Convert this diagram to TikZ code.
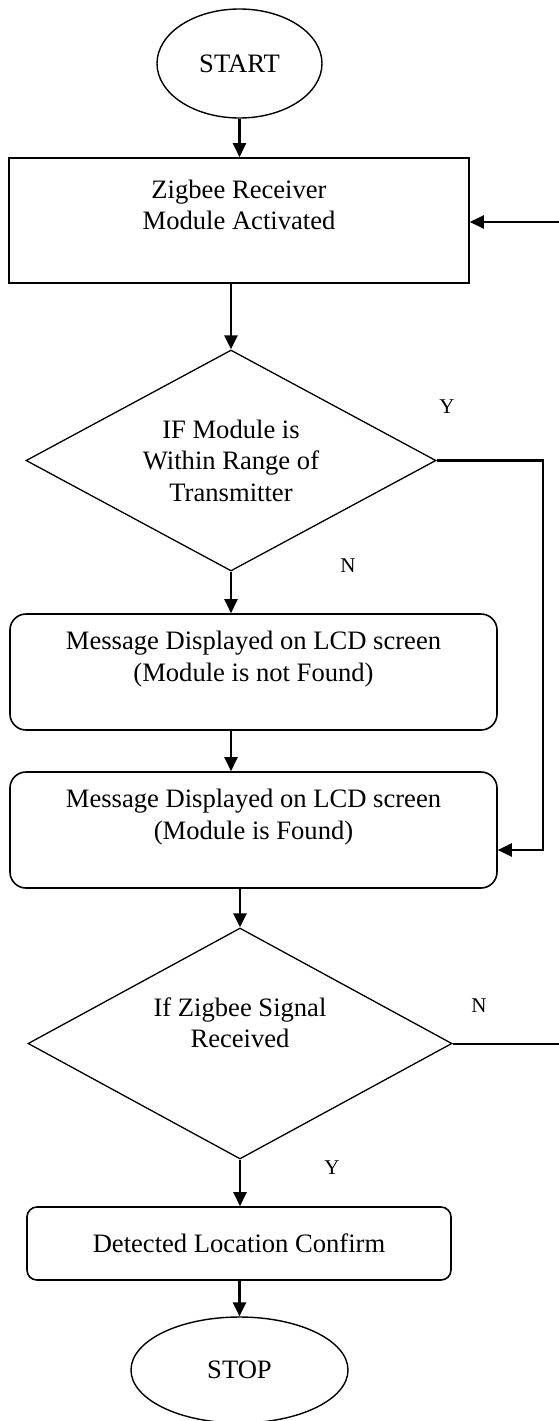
\documentclass[tikz,border=0pt]{standalone}
\usepackage{fontspec}
\setmainfont{Liberation Serif}
\usetikzlibrary{shapes.geometric,arrows.meta}

\begin{document}
\begin{tikzpicture}[x=1pt,y=-1pt,
    every node/.style={font=\fontsize{26.6}{31.5}\selectfont, align=center, inner sep=0pt},
    term/.style={draw, ellipse, line width=1.4pt},
    proc/.style={draw, rectangle, line width=1.6pt},
    msg/.style={draw, rectangle, rounded corners=16pt, line width=1.6pt, minimum width=487pt, minimum height=116pt},
    decide/.style={draw, diamond, line width=1.3pt},
    arr/.style={-{Triangle[length=14pt,width=13pt]}, line width=2.4pt},
    lbl/.style={font=\fontsize{21}{23}\selectfont}]
  \useasboundingbox (0,0) rectangle (559,1421);
  \node (start) [term, minimum width=165pt, minimum height=109pt] at (239.5,63.5) {START};
  \node (recv) [proc, minimum width=460pt, minimum height=125pt] at (239,220.5) {Zigbee Receiver\\Module Activated\\ \mbox{}};
  \node (dec1) [decide, shape aspect=1.86, minimum width=410pt, minimum height=221pt] at (231,460.5) {IF Module is\\Within Range of\\Transmitter};
  \node (box1) [msg] at (253.5,672) {Message Displayed on LCD screen\\(Module is not Found)\\ \mbox{}};
  \node (box2) [msg] at (253.5,830) {Message Displayed on LCD screen\\(Module is Found)\\ \mbox{}};
  \node (dec2) [decide, shape aspect=1.84, minimum width=424pt, minimum height=231pt] at (240,1043.5) {If Zigbee Signal\\Received\\[10pt]\mbox{}};
  \node (box3) [proc, rounded corners=10pt, minimum width=424pt, minimum height=73pt] at (239,1243.5) {Detected Location Confirm};
  \node (stop) [term, minimum width=217pt, minimum height=106pt] at (239.5,1370) {STOP};
  \node (ylbl1) [lbl] at (447,407) {Y};
  \node (nlbl1) [lbl] at (348,566) {N};
  \node (nlbl2) [lbl] at (479,1006) {N};
  \node (ylbl2) [lbl] at (332,1168) {Y};
  \coordinate (backin) at (559,222);
  \coordinate (backout) at (559,1043.5);
  \draw[arr] (start.south) -- (recv.north -| start.south);
  \draw[arr] (backin) -- (recv.east |- backin);
  \draw[arr] (recv.south -| dec1.north) -- (dec1.north);
  \draw[arr] (dec1.south) -- (box1.north -| dec1.south);
  \draw[arr] (box1.south -| dec1.south) -- (box2.north -| dec1.south);
  \draw[arr] (dec1.east) -- (dec1.east -| 543,0) |- (box2.east |- 0,850);
  \draw[arr] (box2.south -| dec2.north) -- (dec2.north);
  \draw[line width=2pt] (dec2.east) -- (backout);
  \draw[arr] (dec2.south) -- (box3.north -| dec2.south);
  \draw[arr] (box3.south -| stop.north) -- (stop.north);
\end{tikzpicture}
\end{document}
